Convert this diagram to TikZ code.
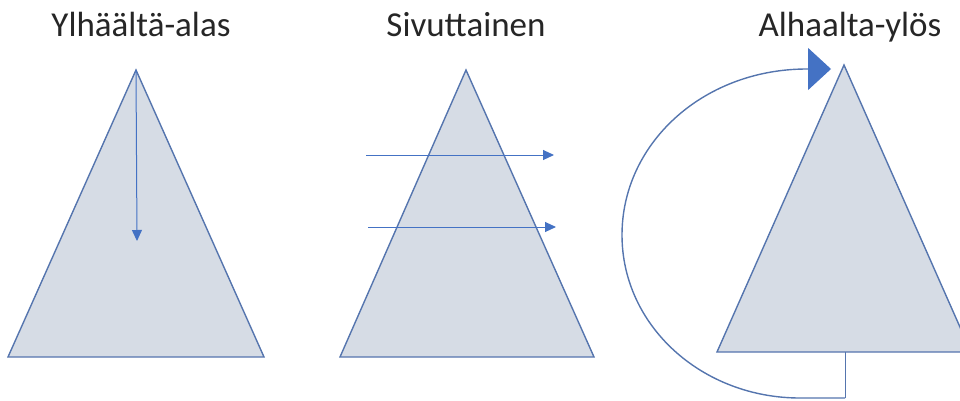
\documentclass[tikz,border=0pt]{standalone}
\usepackage{fontspec}
\setmainfont{Carlito}
\usetikzlibrary{arrows.meta}
\definecolor{triline}{HTML}{5575AE}
\definecolor{trifill}{HTML}{D6DCE5}
\definecolor{arrline}{HTML}{4472C4}
\definecolor{titlecol}{HTML}{262626}
\begin{document}
\begin{tikzpicture}[x=1pt,y=-1pt,
  tri/.style={draw=triline,fill=trifill,line width=1.4pt,line join=miter},
  title/.style={font=\fontsize{35}{40}\selectfont,text=titlecol,anchor=base,inner sep=0pt},
  small/.style={draw=arrline,line width=1pt,-{Triangle[length=11pt,width=10pt]}},
  loop/.style={draw=triline,line width=1.4pt,-{Triangle[length=23pt,width=42pt,fill=arrline,color=arrline]}}]
\useasboundingbox (0,0) rectangle (960,401);
% titles
\node[title] (t1) at (141,37) {Ylhäältä-alas};
\node[title] (t2) at (466,37) {Sivuttainen};
\node[title] (t3) at (850,37) {Alhaalta-ylös};
% triangle 1
\coordinate (a1) at (136,70);
\coordinate (l1) at (8,357);
\coordinate (r1) at (264,357);
\draw[tri] (a1) -- (l1) -- (r1) -- cycle;
\coordinate (d1) at (137,241);
\draw[small] (a1) -- (d1);
% triangle 2
\coordinate (a2) at (466,70);
\coordinate (l2) at (340,357);
\coordinate (r2) at (594,357);
\draw[tri] (a2) -- (l2) -- (r2) -- cycle;
\coordinate (s1) at (366,155);
\coordinate (e1) at (554,155);
\coordinate (s2) at (368,227);
\coordinate (e2) at (556,227);
\draw[small] (s1) -- (e1);
\draw[small] (s2) -- (e2);
% triangle 3
\coordinate (a3) at (844,65);
\coordinate (l3) at (717,352);
\coordinate (r3) at (971,352);
\coordinate (m3) at (845,352);
\draw[tri] (a3) -- (l3) -- (r3) -- cycle;
\coordinate (tip) at (831,69);
\draw[draw=triline,line width=1pt] (m3) -- (845,398);
\draw[loop] (845,398) -- (800,398) .. controls (702,398) and (622,326) .. (622,235)
  .. controls (622,144) and (702,70) .. (805,69) -- (tip);
\end{tikzpicture}
\end{document}
